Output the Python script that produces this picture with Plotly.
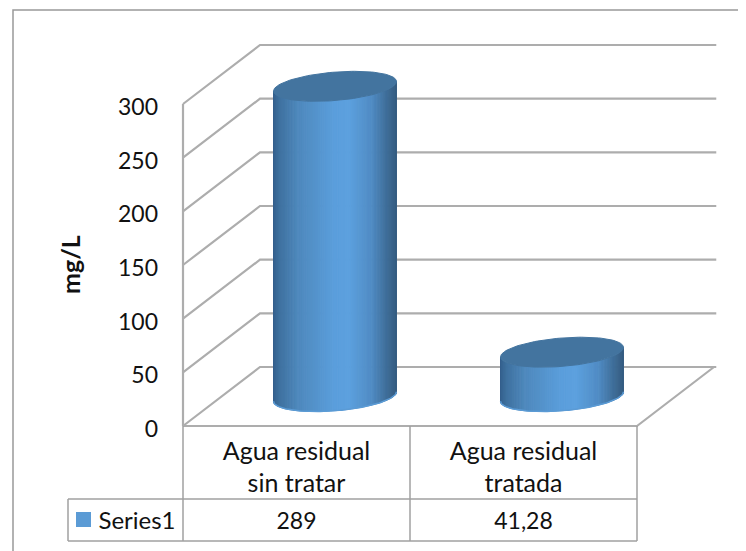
import numpy as np
import plotly.graph_objects as go

# chart values
categories = [["Agua residual", "sin tratar"], ["Agua residual", "tratada"]]
values = [289, 41.28]
value_labels = ["289", "41,28"]
series_name = "Series1"
y_ticks = [0, 50, 100, 150, 200, 250, 300]
y_title = "mg/L"

# the page keeps its 8 px body margin, so everything below is moved back by it
PAGE = 8
W, H = 746 - PAGE, 551 - PAGE
FRONT_LEFT, FRONT_RIGHT = 183 - PAGE, 637 - PAGE
FRONT_ZERO, FRONT_TOP = 426 - PAGE, 104 - PAGE

# oblique projection of the depth axis, pixels
DEPTH_X, DEPTH_Y = 77, 59

px_per_x = (FRONT_RIGHT - FRONT_LEFT) / len(values)
px_per_y = (FRONT_ZERO - FRONT_TOP) / y_ticks[-1]

x_range = [-FRONT_LEFT / px_per_x, (W - FRONT_LEFT) / px_per_x]
y_range = [(FRONT_ZERO - H) / px_per_y, FRONT_ZERO / px_per_y]


def to_x(window_px):
    return (window_px - PAGE - FRONT_LEFT) / px_per_x


def to_y(window_px):
    return (FRONT_ZERO - (window_px - PAGE)) / px_per_y


# depth vector in data units
depth_x = DEPTH_X / px_per_x
depth_y = DEPTH_Y / px_per_y

FONT = "Lato"
TEXT = "#111111"
GRID = "#adadad"
TABLE = "#a0a0a0"
BLUE = "#5b9bd5"
TOP_COLOR = "#43749f"

# cylinder shading across its width: fraction, rgb
shade_pos = [0.0, 0.05, 0.2, 0.5, 0.62, 0.8, 0.93, 1.0]
shade_rgb = [
    (52, 96, 140),
    (62, 112, 158),
    (78, 136, 188),
    (91, 158, 220),
    (92, 160, 222),
    (80, 140, 196),
    (62, 108, 150),
    (56, 94, 130),
]


def shade(frac):
    r, g, b = [np.interp(frac, shade_pos, [c[i] for c in shade_rgb]) for i in range(3)]
    return f"rgb({r:.0f},{g:.0f},{b:.0f})"


fig = go.Figure()


def add_line(xs, ys, color=GRID, width=2.2):
    fig.add_trace(
        go.Scatter(x=xs, y=ys, mode="lines", line=dict(color=color, width=width), hoverinfo="skip")
    )


def add_text(x, y, text, size=25):
    fig.add_trace(
        go.Scatter(
            x=[x], y=[y], mode="text", text=[text], textposition="middle center",
            textfont=dict(family=FONT, size=size, color=TEXT), hoverinfo="skip",
        )
    )


# outer frame, only its top and left edges are in the picture
add_line([to_x(13), to_x(13), to_x(746)], [to_y(551), to_y(10), to_y(10)], color="#999999", width=1.5)

# walls and floor
n = len(values)
for tick in y_ticks:
    add_line([0, depth_x, n + depth_x + 0.01], [tick, tick + depth_y, tick + depth_y])
add_line([0, 0], [0, y_ticks[-1]])
add_line([0, n, n + depth_x], [0, 0, depth_y])

# cylinders
half_w = 61.5 / px_per_x  # silhouette half width
half_d = 15 / px_per_y  # ellipse half height
skew = 19.6 / px_per_x  # sideways shift of the depth radius
major = np.sqrt(half_w**2 - skew**2)
t_left = np.pi + np.arctan2(skew, major)


def ellipse(cx, cy, t):
    return cx + major * np.cos(t) + skew * np.sin(t), cy + half_d * np.sin(t)


for i, val in enumerate(values):
    cx = i + 0.5 + depth_x / 2
    cy = depth_y / 2
    ts = np.linspace(t_left, t_left + np.pi, 91)
    xb, yb = ellipse(cx, cy, ts)
    xt, yt = ellipse(cx, cy + val, ts)
    for j in range(len(ts) - 1):
        frac = ((xb[j] + xb[j + 1]) / 2 - (cx - half_w)) / (2 * half_w)
        color = shade(frac)
        fig.add_trace(
            go.Scatter(
                x=[xb[j], xb[j + 1], xt[j + 1], xt[j], xb[j]],
                y=[yb[j], yb[j + 1], yt[j + 1], yt[j], yb[j]],
                mode="lines", fill="toself", fillcolor=color,
                line=dict(color=color, width=1), hoverinfo="skip",
            )
        )
    add_line(xb, yb, color=BLUE, width=1.5)
    tc = np.linspace(0, 2 * np.pi, 121)
    xc, yc = ellipse(cx, cy + val, tc)
    fig.add_trace(
        go.Scatter(
            x=xc, y=yc, mode="lines", fill="toself", fillcolor=TOP_COLOR,
            line=dict(color=TOP_COLOR, width=1), hoverinfo="skip",
        )
    )

# data table
row_1_end, row_2_end = to_y(499), to_y(541)
key_left = to_x(68)
add_line([key_left, n], [row_1_end, row_1_end], color=TABLE, width=1.5)
add_line([key_left, n], [row_2_end, row_2_end], color=TABLE, width=1.5)
add_line([key_left, key_left], [row_1_end, row_2_end], color=TABLE, width=1.5)
for i in range(n + 1):
    add_line([i, i], [0, row_2_end], color=TABLE, width=1.5)
for i, lines in enumerate(categories):
    add_text(i + 0.5, to_y(454), lines[0])
    add_text(i + 0.5, to_y(486), lines[1])
    add_text(i + 0.5, to_y(523), value_labels[i], size=23)
sw_l, sw_r, sw_low, sw_high = to_x(76), to_x(91), to_y(527), to_y(512)
fig.add_trace(
    go.Scatter(
        x=[sw_l, sw_r, sw_r, sw_l, sw_l],
        y=[sw_low, sw_low, sw_high, sw_high, sw_low],
        mode="lines", fill="toself", fillcolor=BLUE, line=dict(color=BLUE, width=0), hoverinfo="skip",
    )
)
add_text(to_x(137), to_y(523), series_name, size=24)

fig.update_layout(
    width=W,
    height=H,
    margin=dict(l=0, r=0, t=0, b=0),
    paper_bgcolor="white",
    plot_bgcolor="white",
    showlegend=False,
    annotations=[
        dict(
            x=to_x(70), y=to_y(265), xref="x", yref="y", text=f"<b>{y_title}</b>", textangle=-90,
            showarrow=False, font=dict(family=FONT, size=25, color=TEXT),
        )
    ],
)
fig.update_xaxes(range=x_range, visible=False, fixedrange=True)
fig.update_yaxes(
    range=y_range,
    anchor="free",
    position=FRONT_LEFT / W,
    tickvals=y_ticks,
    ticks="",
    showgrid=False,
    zeroline=False,
    showline=False,
    ticklabelstandoff=25,
    ticklabelshift=3,
    tickfont=dict(family=FONT, size=23, color=TEXT),
    fixedrange=True,
)

fig.write_html("out.html")
